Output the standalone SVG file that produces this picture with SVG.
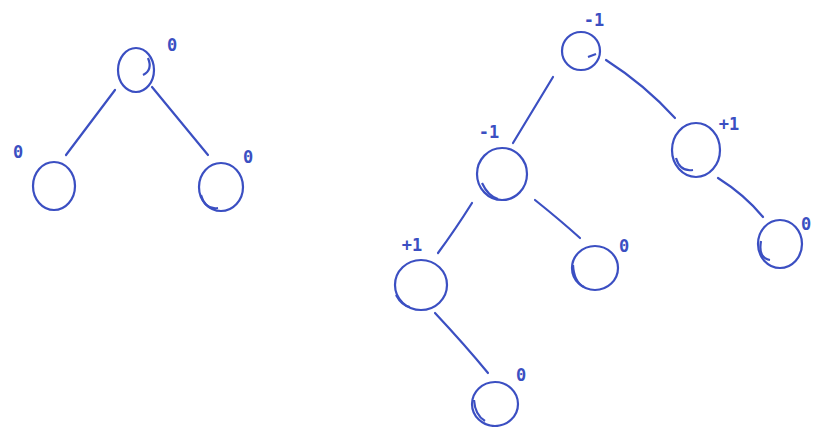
<svg xmlns="http://www.w3.org/2000/svg" width="814" height="427" viewBox="0 0 814 427">
<style>
.n{fill:none;stroke:#3b4fc2;stroke-width:2.2}
.e{fill:none;stroke:#3b4fc2;stroke-width:2.2;stroke-linecap:round}
.t{fill:#3b4fc2;font-family:"DejaVu Sans Mono",monospace;font-size:17px;font-weight:bold;text-anchor:middle}
</style>
<rect width="814" height="427" fill="#ffffff"/>
<g id="connectors">
<path class="e" d="M115,90 L66,155"/>
<path class="e" d="M152,87 L208,155"/>
<path class="e" d="M553,77 L513,143"/>
<path class="e" d="M606,60 Q645,85 675,118"/>
<path class="e" d="M718,178 Q745,195 763,217"/>
<path class="e" d="M472,203 Q455,230 438,253"/>
<path class="e" d="M535,200 Q560,220 580,238"/>
<path class="e" d="M435,313 Q465,345 488,373"/>
</g>
<g id="l-root">
<ellipse class="n" cx="136" cy="70" rx="18" ry="22"/>
<path class="n" d="M148,58 Q153,70 143,75"/>
<text class="t" x="172" y="51">0</text>
</g>
<g id="l-left">
<ellipse class="n" cx="54" cy="186" rx="21" ry="24"/>
<text class="t" x="18" y="158">0</text>
</g>
<g id="l-right">
<ellipse class="n" cx="221" cy="187" rx="22" ry="24"/>
<path class="n" d="M201,195 Q205,210 218,208"/>
<text class="t" x="248" y="163">0</text>
</g>
<g id="r-root">
<ellipse class="n" cx="581" cy="51" rx="19" ry="19"/>
<path class="n" d="M588,57 L596,54"/>
<text class="t" x="594" y="26">-1</text>
</g>
<g id="r-l">
<ellipse class="n" cx="502" cy="174" rx="25" ry="26"/>
<path class="n" d="M482,183 Q488,196 498,199"/>
<text class="t" x="489" y="138">-1</text>
</g>
<g id="r-r">
<ellipse class="n" cx="696" cy="150" rx="24" ry="27"/>
<path class="n" d="M676,158 Q680,172 693,170"/>
<text class="t" x="729" y="130">+1</text>
</g>
<g id="r-rr">
<ellipse class="n" cx="780" cy="244" rx="22" ry="24"/>
<path class="n" d="M761,241 Q758,258 770,260"/>
<text class="t" x="806" y="230">0</text>
</g>
<g id="r-ll">
<ellipse class="n" cx="421" cy="285" rx="26" ry="25"/>
<path class="n" d="M396,295 Q402,306 410,307"/>
<text class="t" x="412" y="251">+1</text>
</g>
<g id="r-lr">
<ellipse class="n" cx="595" cy="268" rx="23" ry="22"/>
<path class="n" d="M573,265 Q574,282 584,287"/>
<text class="t" x="624" y="252">0</text>
</g>
<g id="r-llr">
<ellipse class="n" cx="495" cy="404" rx="23" ry="22"/>
<path class="n" d="M474,400 Q475,415 485,421"/>
<text class="t" x="521" y="381">0</text>
</g>
</svg>
